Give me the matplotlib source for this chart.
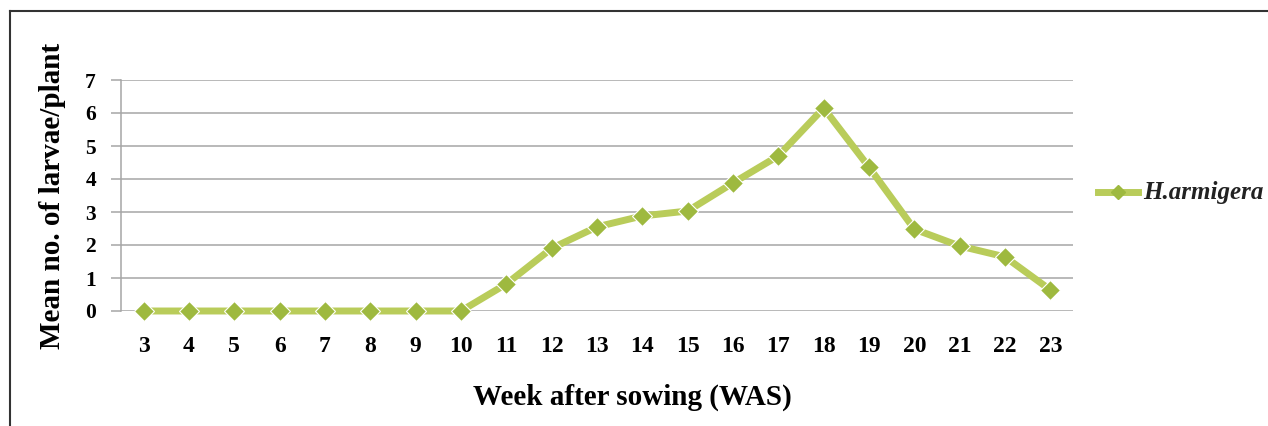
import matplotlib.pyplot as plt
from matplotlib.lines import Line2D

weeks = ['3', '4', '5', '6', '7', '8', '9', '10', '11', '12', '13',
         '14', '15', '16', '17', '18', '19', '20', '21', '22', '23']
larvae = [0, 0, 0, 0, 0, 0, 0, 0, 0.82, 1.9, 2.55,
          2.88, 3.03, 3.88, 4.7, 6.15, 4.36, 2.48, 1.97, 1.64, 0.64]
series_name = 'H.armigera'

serif = ['Liberation Serif', 'DejaVu Serif']

fig = plt.figure(figsize=(12.68, 4.26), dpi=100)
ax = fig.add_axes([121 / 1268, 1 - 311 / 426, (1073 - 121) / 1268, (311 - 80) / 426])

pos = range(len(weeks))
ax.plot(pos, larvae, color='#b9cc5a', linewidth=5, marker='D', markersize=10.5,
        markerfacecolor='#9eb93f', markeredgecolor='white', markeredgewidth=0.8,
        clip_on=False, zorder=3, label=series_name)

ax.set_xlim(-0.5, len(weeks) - 0.5)
ax.set_ylim(0, 7)
ax.set_yticks(range(0, 8))
ax.set_xticks(list(pos))
ax.set_xticklabels(weeks)
ax.yaxis.grid(True, color='#a6a6a6', linewidth=1.1)
ax.set_axisbelow(True)
for s in ['top', 'right', 'bottom']:
    ax.spines[s].set_visible(False)
ax.spines['left'].set_color('#a6a6a6')
ax.spines['left'].set_linewidth(1.1)
ax.tick_params(axis='y', length=7, color='#a6a6a6', width=1.1, pad=11)
ax.tick_params(axis='x', length=0, pad=18)
for t in ax.get_yticklabels():
    t.set_family(serif)
    t.set_fontweight('bold')
    t.set_fontsize(15.5)
for t in ax.get_xticklabels():
    t.set_family(serif)
    t.set_fontweight('bold')
    t.set_fontsize(17)

ax.set_ylabel('Mean no. of larvae/plant', family=serif, fontweight='bold',
              fontsize=21, labelpad=14)
ax.set_xlabel('Week after sowing (WAS)', family=serif, fontweight='bold',
              fontsize=21, va='center')
ax.xaxis.set_label_coords((632 - 121) / 952, (311 - 397) / 231)

# legend
ly = 1 - 192 / 426
fig.add_artist(Line2D([1098 / 1268, 1118 / 1268, 1138 / 1268], [ly] * 3,
                      color='#b9cc5a', linewidth=5, marker='D', markersize=7.5,
                      markevery=[1], markerfacecolor='#9eb93f', markeredgecolor='#9eb93f'))
fig.text(1143 / 1268, ly, series_name, family=serif, fontweight='bold',
         style='italic', fontsize=18, va='center', ha='left', color='#222222')

# outer frame
fig.add_artist(Line2D([10 / 1268, 10 / 1268], [0, 1 - 11 / 426], color='#333333', linewidth=1.5))
fig.add_artist(Line2D([10 / 1268, 1], [1 - 11 / 426] * 2, color='#333333', linewidth=1.5))

fig.savefig('out.png', dpi=100)
